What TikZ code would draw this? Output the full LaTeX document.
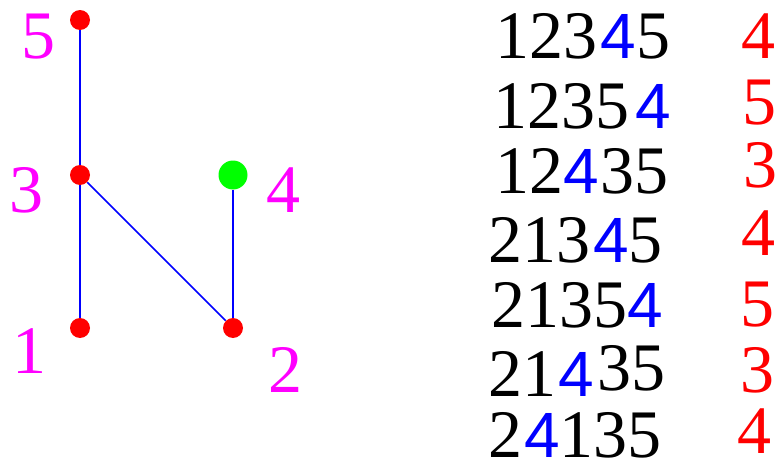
\documentclass[tikz,border=0pt]{standalone}
\usepackage{fontspec}
\setmainfont{Liberation Serif}
\newfontfamily\sansfour{Liberation Sans}
\usetikzlibrary{positioning}
\definecolor{vertred}{HTML}{FF0000}
\definecolor{vertgreen}{HTML}{00FF00}
\definecolor{linkblue}{HTML}{0000FF}
\definecolor{labelmag}{HTML}{FF00FF}
\newcommand{\bfour}{{\sansfour\fontsize{32}{32}\selectfont\textcolor{linkblue}{4}}}

\begin{document}
\begin{tikzpicture}[
    x=0.5pt, y=-0.5pt,
    every node/.style={inner sep=0pt},
    vert/.style={circle, fill=vertred, minimum size=10pt},
    leafvert/.style={circle, fill=vertgreen, minimum size=14.5pt},
    link/.style={draw=linkblue, line width=0.8pt},
    vlabel/.style={text=labelmag, font=\fontsize{34}{34}\selectfont, anchor=base},
    perm/.style={font=\fontsize{34}{34}\selectfont, anchor=base west},
    count/.style={text=vertred, font=\fontsize{34}{34}\selectfont, anchor=base west}
]
    \useasboundingbox (0,0) rectangle (784,466);

    % poset
    \node[vert] (v5) at (80,20) {};
    \node[vert] (v3) at (80,175) {};
    \node[leafvert] (v4) at (233,175) {};
    \node[vert] (v1) at (80,328) {};
    \node[vert] (v2) at (233,328) {};
    \draw[link] (v5) -- (v3);
    \draw[link] (v3) -- (v1);
    \draw[link] (v3) -- (v2);
    \draw[link] (v4) -- (v2);

    \node[vlabel] (l5) at (38,58) {5};
    \node[vlabel] (l3) at (27,213) {3};
    \node[vlabel] (l4) at (283,213) {4};
    \node[vlabel] (l1) at (29,373) {1};
    \node[vlabel] (l2) at (285,393) {2};

    % linear extensions
    \node[perm] (p1) at (495,59) {123\hspace{1.5pt}\bfour\hspace{0.5pt}5};
    \node[perm] (p2) at (493,128) {1235\hspace{3pt}\bfour};
    \node[perm] (p3) at (495,193) {12\bfour\hspace{1pt}35};
    \node[perm] (p4) at (488,263) {213\hspace{1.5pt}\bfour5};
    \node[perm] (p5) at (491,328) {2135\bfour};
    \node[perm] (p6) at (488,396) {21\hspace{1pt}\bfour\hspace{2pt}\raisebox{3pt}{35}};
    \node[perm] (p7) at (488,458) {2\hspace{1pt}\bfour135};

    \node[count] (c1) at (741,59) {4};
    \node[count] (c2) at (742,125) {5};
    \node[count] (c3) at (743,187) {3};
    \node[count] (c4) at (741,256) {4};
    \node[count] (c5) at (740,327) {5};
    \node[count] (c6) at (740,393) {3};
    \node[count] (c7) at (737,453) {4};
\end{tikzpicture}
\end{document}
